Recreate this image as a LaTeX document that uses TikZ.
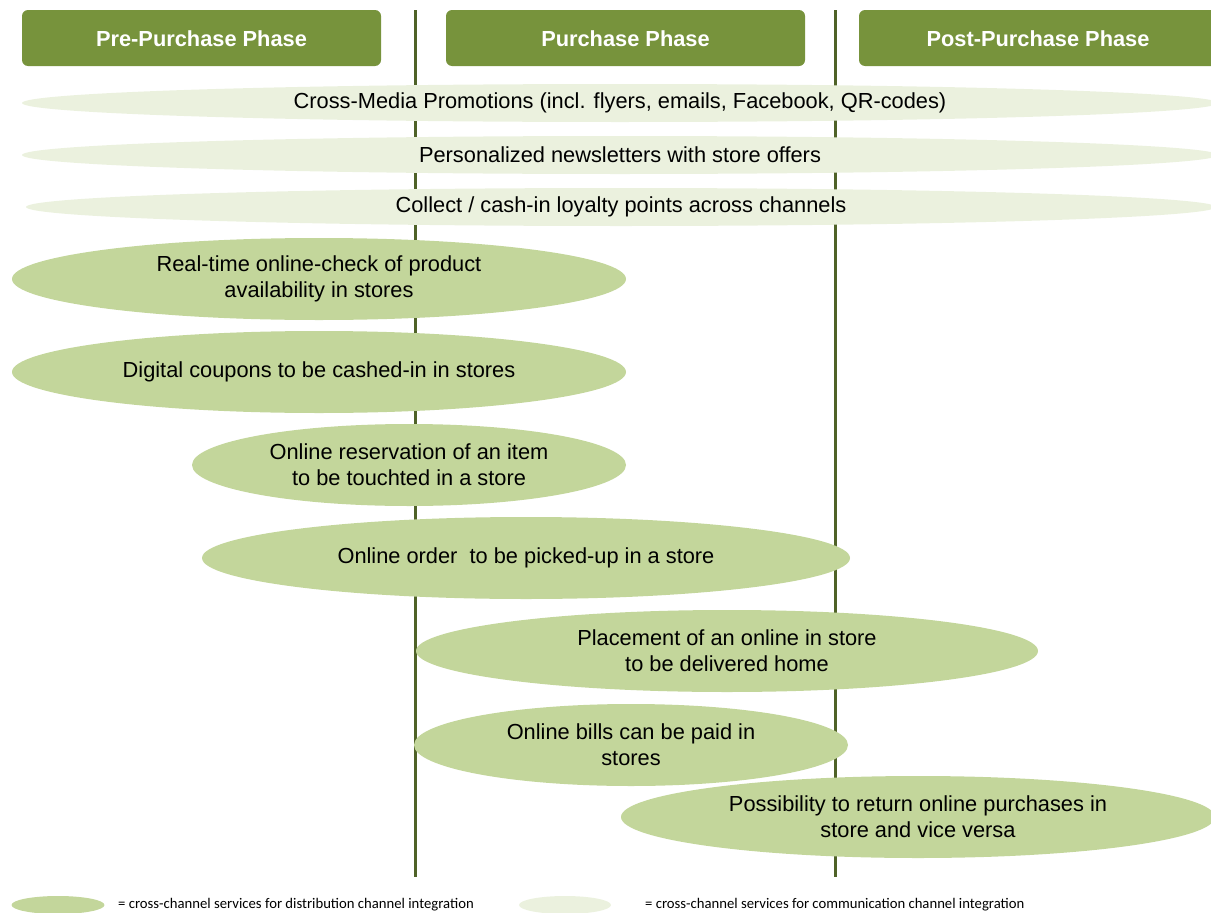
\documentclass[tikz,border=0pt]{standalone}
\usepackage{fontspec}
\setmainfont{Liberation Sans}
\newfontfamily\legendfont{Carlito}
\usetikzlibrary{shapes.geometric}
\definecolor{phasegreen}{HTML}{77933C}
\definecolor{linegreen}{HTML}{4F6228}
\definecolor{distfill}{HTML}{C3D69B}
\definecolor{commfill}{HTML}{EBF1DE}
\tikzset{
  phasebox/.style={fill=phasegreen, rounded corners=6pt},
  phasetext/.style={text=white, font=\fontsize{21.8}{26}\selectfont\bfseries},
  divider/.style={draw=linegreen, line width=3pt},
  service/.style={ellipse, inner sep=0pt, align=center,
    font=\fontsize{21.8}{26}\selectfont},
  distsvc/.style={service, fill=distfill},
  commsvc/.style={service, fill=commfill},
  legendtext/.style={anchor=west, inner sep=0pt, font=\legendfont\fontsize{14.7}{17}\selectfont},
}
\begin{document}
\begin{tikzpicture}[x=1pt, y=-1pt]
\useasboundingbox (0,0) rectangle (1211,913);
\clip (0,0) rectangle (1211,913);

% phase dividers
\coordinate (d1top) at (415,10);  \coordinate (d1bot) at (415,877);
\coordinate (d2top) at (835,10);  \coordinate (d2bot) at (835,877);
\draw[divider] (d1top) -- (d1bot);
\draw[divider] (d2top) -- (d2bot);

% phase headers
\fill[phasebox] (22,10) rectangle (381,66);
\node[phasetext] (pre) at (201.5,39) {Pre-Purchase Phase};
\fill[phasebox] (446,10) rectangle (805,66);
\node[phasetext] (pur) at (625.5,39) {Purchase Phase};
\fill[phasebox] (859,10) rectangle (1240,66);
\node[phasetext] (post) at (1038,39) {Post-Purchase Phase};

% communication channel services
\node[commsvc, minimum width=1196pt, minimum height=38pt] (c1) at (620,103)
  {Cross-Media Promotions (incl. flyers, emails, Facebook, QR-codes)};
\node[commsvc, minimum width=1196pt, minimum height=38pt] (c2) at (620,155)
  {Personalized newsletters with store offers};
\node[commsvc, minimum width=1190pt, minimum height=38pt] (c3) at (621,207)
  {Collect / cash-in loyalty points across channels};

% distribution channel services
\node[distsvc, minimum width=614pt, minimum height=82pt] (s1) at (319,279)
  {Real-time online-check of product\\availability in stores};
\node[distsvc, minimum width=614pt, minimum height=82pt] (s2) at (319,372)
  {Digital coupons to be cashed-in in stores};
\node[distsvc, minimum width=434pt, minimum height=82pt] (s3) at (409,465)
  {Online reservation of an item\\to be touchted in a store};
\node[distsvc, minimum width=648pt, minimum height=82pt] (s4) at (526,558)
  {Online order\ \ to be picked-up in a store};
\node[distsvc, minimum width=622pt, minimum height=82pt] (s5) at (727,651)
  {Placement of an online in store\\to be delivered home};
\node[distsvc, minimum width=434pt, minimum height=82pt] (s6) at (631,745)
  {Online bills can be paid in\\stores};
\node[distsvc, minimum width=594pt, minimum height=82pt] (s7) at (918,817)
  {Possibility to return online purchases in\\store and vice versa};

% legend
\node[ellipse, fill=distfill, minimum width=93pt, minimum height=18pt, inner sep=0pt] (ldist) at (58,905) {};
\node[legendtext] (ldisttxt) at (118,905) {= cross-channel services for distribution channel integration};
\node[ellipse, fill=commfill, minimum width=92pt, minimum height=18pt, inner sep=0pt] (lcomm) at (565,905) {};
\node[legendtext] (lcommtxt) at (645,905) {= cross-channel services for communication channel integration};
\end{tikzpicture}
\end{document}
